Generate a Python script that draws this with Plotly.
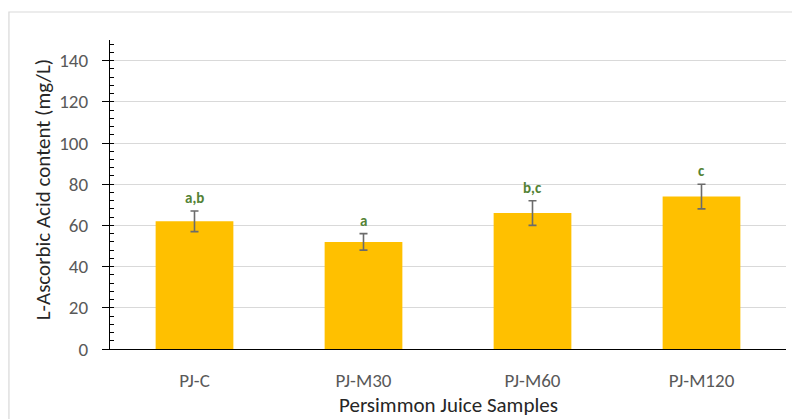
import plotly.graph_objects as go

categories = ["PJ-C", "PJ-M30", "PJ-M60", "PJ-M120"]
values = [62, 52, 66, 74]
errors = [5, 4, 6, 6]
letters = ["a,b", "a", "b,c", "c"]

FONT = "Carlito, Calibri, Lato, sans-serif"

fig = go.Figure()
fig.add_trace(go.Bar(
    x=categories, y=values,
    marker=dict(color="#FFC000", line=dict(width=0)),
    error_y=dict(type="data", array=errors, visible=True,
                 color="#6b6b6b", thickness=1.6, width=4),
    width=0.46,
))

for c, v, e, t in zip(categories, values, errors, letters):
    fig.add_annotation(x=c, y=v + e, text="<b>%s</b>" % t, showarrow=False,
                       yanchor="bottom", yshift=2,
                       font=dict(family=FONT, size=15, color="#548235"))

fig.add_annotation(xref="paper", yref="paper", x=-0.1, y=0.515,
                   text="L-Ascorbic Acid content (mg/L)", textangle=-90,
                   showarrow=False, xanchor="center", yanchor="middle",
                   font=dict(family=FONT, size=21, color="#262626"))
fig.add_annotation(xref="paper", yref="paper", x=0.5, y=-0.181,
                   text="Persimmon Juice Samples",
                   showarrow=False, xanchor="center", yanchor="middle",
                   font=dict(family=FONT, size=21, color="#262626"))

fig.add_shape(type="rect", xref="paper", yref="paper",
              x0=-0.1495, x1=1.2, y0=-0.5, y1=1.0906,
              line=dict(color="#d9d9d9", width=1.2), layer="below")

fig.update_layout(
    width=792, height=411,
    margin=dict(l=102, r=14, t=32, b=70),
    paper_bgcolor="white", plot_bgcolor="white",
    showlegend=False,
    font=dict(family=FONT, color="#595959"),
    xaxis=dict(
        automargin=False,
        showline=True, linecolor="#000000", linewidth=1.3,
        ticks="outside", ticklen=14, tickcolor="rgba(0,0,0,0)",
        tickfont=dict(size=19, color="#595959"),
    ),
    yaxis=dict(
        automargin=False,
        range=[0, 150], dtick=20, tick0=0,
        showline=True, linecolor="#000000", linewidth=1.3,
        ticks="outside", ticklen=7, tickcolor="#000000", tickwidth=1.3,
        minor=dict(dtick=4, ticks="inside", ticklen=4, tickcolor="#000000",
                   tickwidth=1, showgrid=False),
        showgrid=True, gridcolor="#d9d9d9", gridwidth=1.3,
        tickfont=dict(size=19, color="#595959"),
        ticklabelstandoff=10,
        zeroline=False,
    ),
)

fig.write_html("out.html")
